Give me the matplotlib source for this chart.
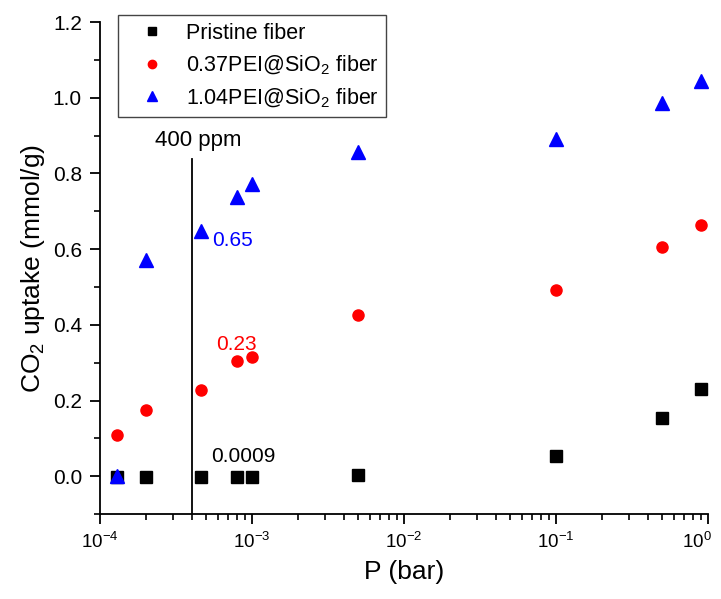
import numpy as np
import matplotlib.pyplot as plt
import matplotlib.transforms as mtransforms
from matplotlib.ticker import MultipleLocator, LogLocator, NullFormatter

plt.rcParams['font.family'] = ['Liberation Sans', 'DejaVu Sans']
plt.rcParams['mathtext.fontset'] = 'custom'
plt.rcParams['mathtext.rm'] = 'Liberation Sans'
plt.rcParams['mathtext.it'] = 'Liberation Sans:italic'
plt.rcParams['mathtext.bf'] = 'Liberation Sans:bold'

# pressures (bar)
p_low = [1.3e-4, 2.0e-4, 4.6e-4, 8.0e-4, 1.0e-3, 5.0e-3, 0.1, 0.5, 0.9]

pristine = [-0.002, -0.003, -0.001, -0.001, -0.001, 0.003, 0.053, 0.154, 0.231]
pei037 = [0.110, 0.176, 0.229, 0.305, 0.314, 0.426, 0.491, 0.605, 0.663]
pei104 = [0.0, 0.571, 0.647, 0.738, 0.773, 0.857, 0.892, 0.987, 1.044]

labels = ['Pristine fiber', '0.37PEI@SiO$_2$ fiber', '1.04PEI@SiO$_2$ fiber']

fig = plt.figure(figsize=(7.21, 5.99), dpi=100)
ax = fig.add_axes([0.1387, 0.1419, 0.982 - 0.1387, 0.963 - 0.1419])

ax.plot(p_low, pristine, 's', color='black', markersize=8.5, label=labels[0])
ax.plot(p_low, pei037, 'o', color='red', markersize=8, label=labels[1])
ax.plot(p_low, pei104, '^', color='blue', markersize=9.5, label=labels[2])

ax.set_xscale('log')
ax.set_xlim(1e-4, 1)
ax.set_ylim(-0.1, 1.2)

# 400 ppm marker line
ax.plot([4e-4, 4e-4], [-0.1, 0.838], color='black', lw=1.3)
ax.text(2.3e-4, 0.888, '400 ppm', fontsize=16, ha='left', va='center')

ax.text(5.45e-4, 0.623, '0.65', color='blue', fontsize=15, va='center')
ax.text(5.8e-4, 0.349, '0.23', color='red', fontsize=15, va='center')
ax.text(5.4e-4, 0.053, '0.0009', color='black', fontsize=15, va='center')

ax.yaxis.set_major_locator(MultipleLocator(0.2))
ax.yaxis.set_minor_locator(MultipleLocator(0.1))
ax.yaxis.set_major_formatter(plt.FuncFormatter(lambda v, _: f'{v:.1f}'))
ax.xaxis.set_major_locator(LogLocator(base=10, numticks=10))
ax.xaxis.set_minor_locator(LogLocator(base=10, subs=np.arange(2, 10), numticks=20))
ax.xaxis.set_minor_formatter(NullFormatter())

for s in ['top', 'right']:
    ax.spines[s].set_visible(False)
for s in ['left', 'bottom']:
    ax.spines[s].set_linewidth(1.3)

ax.tick_params(which='major', direction='out', length=7, width=1.3, labelsize=15, pad=6)
ax.tick_params(axis='x', which='major', labelsize=13.5)
ax.tick_params(which='minor', direction='out', length=4, width=1.2)

ax.set_xlabel('P (bar)', fontsize=19, labelpad=6)
ax.set_ylabel('CO$_2$ uptake (mmol/g)', fontsize=19, labelpad=4)

leg = ax.legend(loc='upper left', bbox_to_anchor=(0.03, 1.014), fontsize=15.5,
                fancybox=False, edgecolor='#444444', framealpha=1, borderpad=0.35,
                handlelength=2.4, handletextpad=0.4, labelspacing=0.45,
                markerscale=0.75, borderaxespad=0)
leg.get_frame().set_linewidth(1.0)

# nudge the 10^0 label left so it stays inside the figure
fig.canvas.draw()
shift = mtransforms.ScaledTranslation(-8 / 72, 0, fig.dpi_scale_trans)
for tick in ax.xaxis.get_major_ticks():
    if np.isclose(tick.get_loc(), 1.0):
        tick.label1.set_transform(tick.label1.get_transform() + shift)

fig.savefig('out.png', dpi=100)
